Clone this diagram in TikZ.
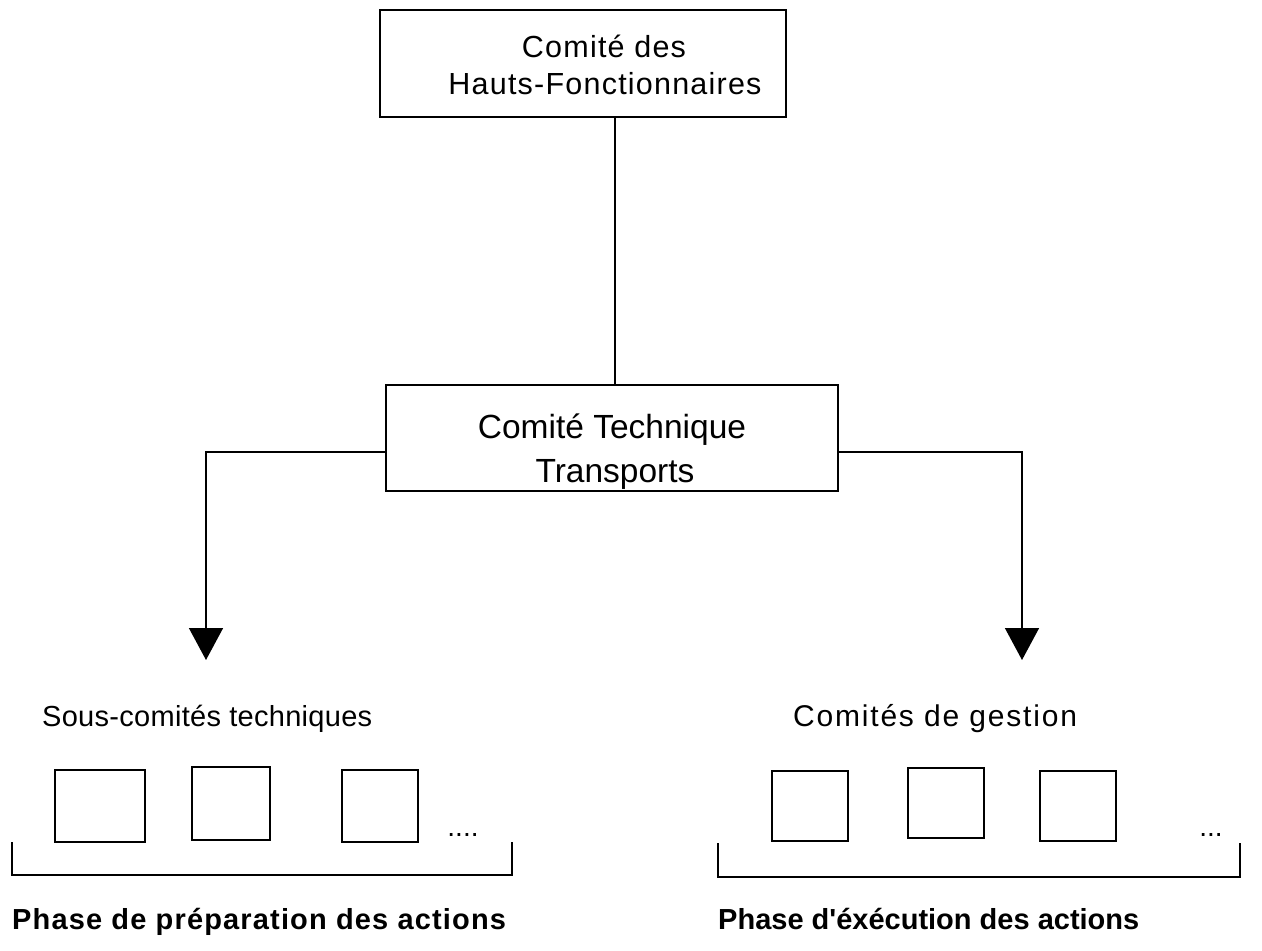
\documentclass[tikz,border=0pt]{standalone}
\usepackage{fontspec}
\setmainfont{Liberation Sans}
\usetikzlibrary{arrows.meta}
\tikzset{
  box/.style={draw, line width=1.8pt, rectangle, inner sep=0pt},
  line/.style={draw, line width=1.5pt},
  arrowline/.style={line, -{Triangle[width=34pt,length=32pt]}},
  txt/.style={inner sep=0pt, anchor=base},
  lbl/.style={inner sep=0pt, anchor=base west},
  bigfont/.style={font=\fontsize{30.5}{36}\selectfont\addfontfeatures{LetterSpace=4}},
  midfont/.style={font=\fontsize{33.5}{38}\selectfont},
  dotfont/.style={font=\fontsize{28}{32}\selectfont},
}
\begin{document}
\begin{tikzpicture}[x=1pt,y=-1pt]
\useasboundingbox (0,0) rectangle (1262,951);
% top box
\node[box, minimum width=406pt, minimum height=107pt] (top) at (583,63.5) {};
\node[txt, bigfont] (topA) at (604,57) {Comité des};
\node[txt, bigfont] (topB) at (605,94) {Hauts-Fonctionnaires};
% middle box
\node[box, minimum width=452pt, minimum height=106pt] (mid) at (612,438) {};
\node[txt, midfont] (midA) at (612,438) {Comité Technique};
\node[txt, midfont] (midB) at (615,482) {Transports};
% vertical connector
\coordinate (vx) at (615,0);
\draw[line] (top.south -| vx) -- (mid.north -| vx);
% arrows
\coordinate (lj) at (206,452);
\coordinate (rj) at (1022,452);
\coordinate (lend) at (206,660);
\coordinate (rend) at (1022,660);
\draw[arrowline] (mid.west |- lj) -- (lj) -- (lend);
\draw[arrowline] (mid.east |- rj) -- (rj) -- (rend);
% labels
\node[lbl, font=\fontsize{29}{34}\selectfont\addfontfeatures{LetterSpace=1}] (sct) at (42,726) {Sous-comités techniques};
\node[lbl, font=\fontsize{30}{36}\selectfont\addfontfeatures{LetterSpace=6}] (cdg) at (793,726) {Comités de gestion};
% left small boxes
\node[box, minimum width=90pt, minimum height=72pt] (l1) at (100,806) {};
\node[box, minimum width=78pt, minimum height=73pt] (l2) at (231,803.5) {};
\node[box, minimum width=76pt, minimum height=72pt] (l3) at (380,806) {};
\node[txt, dotfont] (ldots) at (463,836) {....};
% right small boxes
\node[box, minimum width=76pt, minimum height=70pt] (r1) at (810,806) {};
\node[box, minimum width=76pt, minimum height=70pt] (r2) at (946,803) {};
\node[box, minimum width=76pt, minimum height=70pt] (r3) at (1078,806) {};
\node[txt, dotfont] (rdots) at (1211,836) {...};
% brackets
\draw[line] (12,842) -- (12,875) -- (512,875) -- (512,842);
\draw[line] (718,843) -- (718,877) -- (1240,877) -- (1240,843);
% bold captions
\node[lbl, font=\fontsize{29}{35}\selectfont\bfseries\addfontfeatures{LetterSpace=4}] (phA) at (12,929) {Phase de préparation des actions};
\node[lbl, font=\fontsize{29}{35}\selectfont\bfseries] (phB) at (718,929) {Phase d\textquotesingle éxécution des actions};
\end{tikzpicture}
\end{document}
